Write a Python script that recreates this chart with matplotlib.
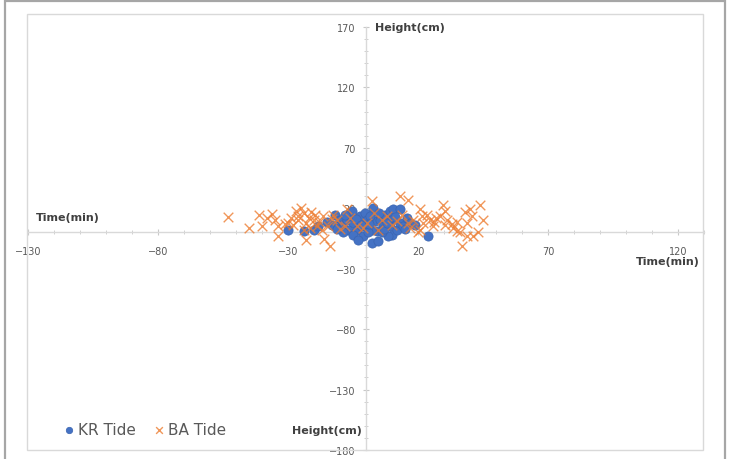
import matplotlib
matplotlib.use('Agg')
import matplotlib.pyplot as plt
from matplotlib.ticker import FixedLocator, MultipleLocator
from matplotlib.patches import Rectangle

# KR Tide: (time [min], height [cm])
kr_time = [-30, -24, -20, -12, -10, -9.3, -7.3, -6, -5, -7, -3.5, -2.3, -0.4, 0.4,
           -1.5, -5, -1, -3, 2.3, 4.6, 2.7, 3.5, 5.4, 6.5, 7.3, 9.2, 10.4, 10, 9.2,
           10, 8.5, 12, 13, 14.2, 15.6, 17, 19, 24, 4.2, 2.3, 1.5, -5.4, -8, 13,
           0.8, 6, -9, -12, -18.5, -13, -11, -4, 1, 7, 11, 15, -15, -2, 5, 8]
kr_height = [2, 1, 2, 14.5, 10, 6, 10, 13.5, 8, 2, 2, 13.5, 16, 10,
             5, -2, -3, -6, -9, -7, 20, 9.5, 10, 5, 14.5, 18, 19, 10, 5,
             -2, -3, 2, 8, 5, 12, 8, 6, -3, 1, 2, 13.5, 18, 14.5, 19,
             0, 0, 0, 5, 5, 6, 3, 11, 7, 3, 13, 3, 9, 6, 16, 8]

# BA Tide
ba_time = [-53, -45, -41, -40, -38, -35, -34, -34, -27, -25, -24, -26, -28, -23,
           -20, -19, -21.5, -18, -16.5, -14, -14.6, -12.7, -11, -7.3, -3.5, -1,
           0.4, 2.3, 6, 8, 13, 16, 14, 18, 20.8, 21.5, 23.3, 24.6, 25.8, 20.8, 20,
           28.5, 29.6, 30.4, 30.4, 33.5, 35, 36, 37, 38.8, 40, 40.8, 41, 43, 43.8,
           45, 39, 35, -24, -19.6, -8, 4.6, 12, 16, -16, -22, -30, -29, -10, 26,
           -26, -21, -17, -13, -31, -36, 22, 27, 31, 33, 17, 10, -6, 3, 38, -23]
ba_height = [13, 4, 14.5, 5, 12, 10, -3, 5, 18, 20, 16, 10, 6, 8,
             10, 5, 4, 9, 14, -11, 5, 14.5, 10, 19, 5, 4,
             8, 26, 10, 13.5, 30, 27, 14.5, 10, 19, 13.5, 14.5, 10, 5, 2, 0,
             13.5, 23, 18, 6, 4, 1, 0, -11, -3, 19, 13.5, -3, 0, 23,
             10, 8, 9, 2, 14.5, 5, 2, 9.5, 8, -5, 12, 8, 12, 3, 9,
             14, 17, 2, 11, 7, 15, 8, 12, 10, 7, 4, 6, 12, 16, 17, -6]

x_major = [-130, -80, -30, 20, 70, 120]
y_major = [170, 120, 70, 20, -30, -80, -130, -180]

W, H = 729, 460
fig = plt.figure(figsize=(W / 100, H / 100), dpi=100)
plt.rcParams['font.family'] = ['DejaVu Sans']

# chart frame (outer border + inner chart area)
fig.add_artist(Rectangle((5 / W, -0.02), 720 / W, 1.02 - 2 / H, transform=fig.transFigure,
                         fill=False, edgecolor='#A6A6A6', linewidth=1.6))
fig.add_artist(Rectangle((27 / W, 1 - 451 / H), 676 / W, 436 / H, transform=fig.transFigure,
                         fill=False, edgecolor='#D9D9D9', linewidth=1.0))

ax = fig.add_axes([28 / W, 1 - 451 / H, 676 / W, 423 / H])
ax.set_xlim(-130, 130)
ax.set_ylim(-180, 170)

ax.scatter(kr_time, kr_height, s=44, color='#4472C4', edgecolors='#3A64B0',
           linewidths=0.5, label='KR Tide', zorder=3)
ax.scatter(ba_time, ba_height, s=48, marker='x', color='#ED7D31', linewidths=1.0,
           alpha=0.8, label='BA Tide', zorder=4)

for side in ['top', 'right']:
    ax.spines[side].set_visible(False)
ax.spines['left'].set_position(('data', 0))
ax.spines['bottom'].set_position(('data', 0))
for side in ['left', 'bottom']:
    ax.spines[side].set_color('#D9D9D9')
    ax.spines[side].set_linewidth(1.0)

ax.xaxis.set_major_locator(FixedLocator(x_major))
ax.yaxis.set_major_locator(FixedLocator(y_major))
ax.xaxis.set_minor_locator(MultipleLocator(10))
ax.yaxis.set_minor_locator(MultipleLocator(10))
ax.tick_params(which='major', direction='inout', length=4.5, width=0.8, color='#C8C8C8',
               labelsize=7, labelcolor='#595959')
ax.tick_params(which='minor', direction='inout', length=3, width=0.7, color='#D0D0D0')
ax.tick_params(axis='x', which='major', pad=7.5)
ax.tick_params(axis='y', which='major', pad=5)

lab = dict(fontsize=8, color='#404040', fontweight='semibold')
fig.text(375 / W, 1 - 28 / H, 'Height(cm)', ha='left', va='center', **lab)
fig.text(36 / W, 1 - 218 / H, 'Time(min)', ha='left', va='center', **lab)
fig.text(700 / W, 1 - 262 / H, 'Time(min)', ha='right', va='center', **lab)
fig.text(362 / W, 1 - 431 / H, 'Height(cm)', ha='right', va='center', **lab)

leg = ax.legend(loc='lower left', bbox_to_anchor=(54 / W, 1 - 446 / H),
                bbox_transform=fig.transFigure, ncol=2, frameon=False, fontsize=11,
                handletextpad=0.1, columnspacing=1.0, handlelength=1.0, borderpad=0,
                markerscale=0.7)
for t in leg.get_texts():
    t.set_color('#595959')

fig.savefig('out.png', dpi=100)
